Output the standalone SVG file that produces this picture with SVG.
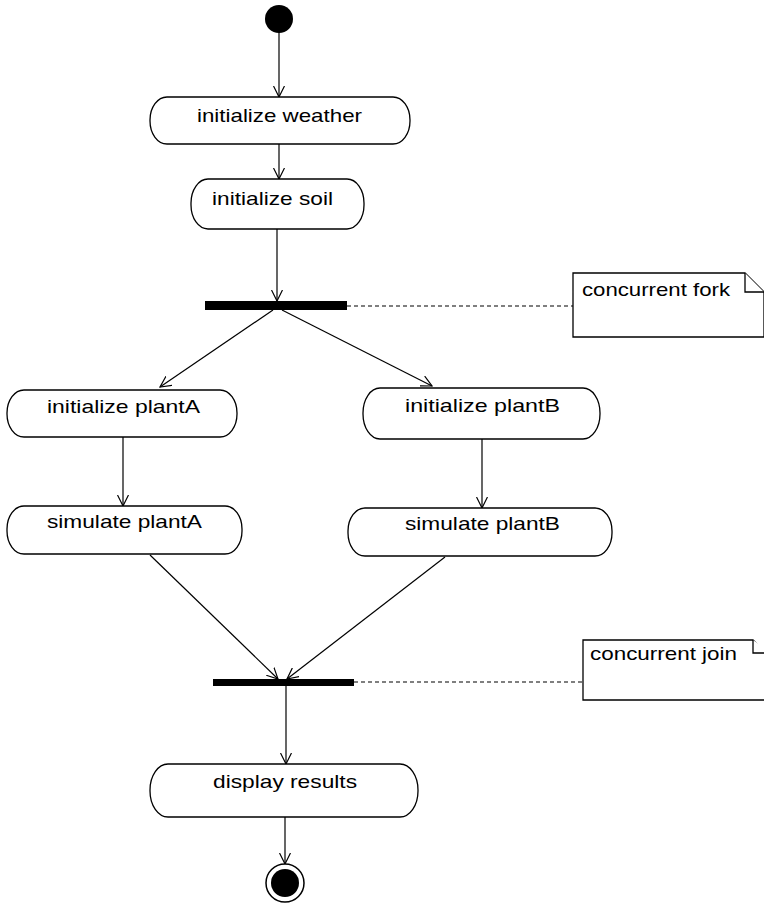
<svg xmlns="http://www.w3.org/2000/svg" width="764" height="904" viewBox="0 0 764 904">
<defs>
<style>
.act{fill:#fff;stroke:#000;stroke-width:1.3}
.lbl{font-family:"Liberation Sans",Arial,sans-serif;font-size:19px;fill:#000}
.edge{stroke:#000;stroke-width:1.2;fill:none}
.dash{stroke:#000;stroke-width:1.2;stroke-dasharray:4,3;fill:none}
.bar{fill:#000}
.note{fill:#fff;stroke:#000;stroke-width:1.3}
</style>
<marker id="arr" markerWidth="12" markerHeight="12" refX="11" refY="6" orient="auto" markerUnits="userSpaceOnUse">
<path d="M0,0.5 L11,6 L0,11.5" fill="none" stroke="#000" stroke-width="1.2"/>
</marker>
</defs>
<rect width="764" height="904" fill="#fff"/>

<g id="edges">
<line class="edge" x1="279" y1="32" x2="279" y2="97" marker-end="url(#arr)"/>
<line class="edge" x1="279" y1="144" x2="279" y2="179" marker-end="url(#arr)"/>
<line class="edge" x1="277" y1="229" x2="277" y2="301" marker-end="url(#arr)"/>
<line class="edge" x1="273" y1="310" x2="160" y2="387" marker-end="url(#arr)"/>
<line class="edge" x1="282" y1="310" x2="432" y2="386" marker-end="url(#arr)"/>
<line class="edge" x1="123" y1="437" x2="123" y2="506" marker-end="url(#arr)"/>
<line class="edge" x1="482" y1="439" x2="482" y2="508" marker-end="url(#arr)"/>
<line class="edge" x1="150" y1="555" x2="278" y2="679" marker-end="url(#arr)"/>
<line class="edge" x1="445" y1="557" x2="287" y2="679" marker-end="url(#arr)"/>
<line class="edge" x1="286" y1="686" x2="286" y2="764" marker-end="url(#arr)"/>
<line class="edge" x1="285" y1="817" x2="285" y2="864" marker-end="url(#arr)"/>
<line class="dash" x1="347" y1="306" x2="573" y2="306"/>
<line class="dash" x1="354" y1="682" x2="583" y2="682"/>
</g>

<g id="start"><circle cx="279" cy="19" r="14" fill="#000"/></g>

<g id="init-weather">
<rect class="act" x="150" y="97" width="260" height="47" rx="17" ry="23"/>
<text class="lbl" x="197" y="122" textLength="165" lengthAdjust="spacingAndGlyphs">initialize weather</text>
</g>

<g id="init-soil">
<rect class="act" x="191" y="179" width="173" height="50" rx="17" ry="24"/>
<text class="lbl" x="212" y="205" textLength="121" lengthAdjust="spacingAndGlyphs">initialize soil</text>
</g>

<g id="fork"><rect class="bar" x="205" y="301" width="142" height="9"/></g>

<g id="note-fork">
<path class="note" d="M573,273 L745,273 L764,292 L764,337 L573,337 Z"/>
<path class="note" d="M745,273 L745,292 L764,292" fill="none"/>
<text class="lbl" x="582" y="296" textLength="148" lengthAdjust="spacingAndGlyphs">concurrent fork</text>
</g>

<g id="init-plantA">
<rect class="act" x="7" y="390" width="230" height="47" rx="17" ry="23"/>
<text class="lbl" x="47" y="413" textLength="153" lengthAdjust="spacingAndGlyphs">initialize plantA</text>
</g>

<g id="sim-plantA">
<rect class="act" x="7" y="506" width="235" height="48" rx="17" ry="23"/>
<text class="lbl" x="47" y="528" textLength="155" lengthAdjust="spacingAndGlyphs">simulate plantA</text>
</g>

<g id="init-plantB">
<rect class="act" x="363" y="388" width="237" height="51" rx="17" ry="25"/>
<text class="lbl" x="405" y="412" textLength="155" lengthAdjust="spacingAndGlyphs">initialize plantB</text>
</g>

<g id="sim-plantB">
<rect class="act" x="348" y="508" width="264" height="48" rx="17" ry="23"/>
<text class="lbl" x="405" y="530" textLength="155" lengthAdjust="spacingAndGlyphs">simulate plantB</text>
</g>

<g id="join"><rect class="bar" x="213" y="679" width="141" height="7"/></g>

<g id="note-join">
<path class="note" d="M583,640 L753,640 L772,659 L772,700 L583,700 Z"/>
<path class="note" d="M753,640 L753,653 L772,653" fill="none"/>
<text class="lbl" x="590" y="660" textLength="147" lengthAdjust="spacingAndGlyphs">concurrent join</text>
</g>

<g id="display-results">
<rect class="act" x="150" y="764" width="268" height="53" rx="18" ry="26"/>
<text class="lbl" x="213" y="788" textLength="144" lengthAdjust="spacingAndGlyphs">display results</text>
</g>

<g id="end">
<circle cx="285" cy="883" r="19" fill="#fff" stroke="#000" stroke-width="1.5"/>
<circle cx="285" cy="883" r="14" fill="#000"/>
</g>
</svg>
